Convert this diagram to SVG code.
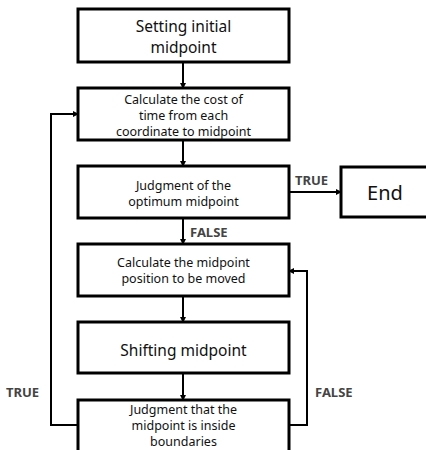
<svg xmlns="http://www.w3.org/2000/svg" width="426" height="450" viewBox="0 0 426 450">
<style>
.box{fill:#fff;stroke:#000;stroke-width:3}
.t{font-family:"Noto Sans","Open Sans",sans-serif;fill:#111;text-anchor:middle;dominant-baseline:central}
.s{font-size:12.5px}
.m{font-size:15.5px}
.l{font-size:20px}
.lab{font-family:"Noto Sans","Open Sans",sans-serif;font-size:13px;font-weight:bold;fill:#444;dominant-baseline:central}
.c{fill:none;stroke:#000;stroke-width:2;marker-end:url(#a)}
</style>
<defs>
<marker id="a" markerWidth="6" markerHeight="6" refX="5" refY="3" orient="auto" markerUnits="userSpaceOnUse">
<path d="M0,0 L6,3 L0,6 z" fill="#000"/>
</marker>
</defs>
<rect width="426" height="450" fill="#fff"/>
<g id="connectors">
<path class="c" d="M183,62 V88"/>
<path class="c" d="M183,140 V166"/>
<path class="c" d="M183,218 V244"/>
<path class="c" d="M183,296 V322"/>
<path class="c" d="M183,373 V400"/>
<path class="c" d="M289,192 H341"/>
<path class="c" d="M78,425 H51 V114 H78"/>
<path class="c" d="M289,425 H307 V271 H289"/>
<text class="lab" x="6" y="392">TRUE</text>
<text class="lab" x="295" y="180">TRUE</text>
<text class="lab" x="190" y="232">FALSE</text>
<text class="lab" x="315" y="392">FALSE</text>
</g>
<g id="n1">
<rect class="box" x="78" y="9" width="211" height="53"/>
<text class="t m" x="183.5" y="25.5">Setting initial</text>
<text class="t m" x="183.5" y="47">midpoint</text>
</g>
<g id="n2">
<rect class="box" x="78" y="88" width="211" height="52"/>
<text class="t s" x="183.5" y="99">Calculate the cost of</text>
<text class="t s" x="183.5" y="115">time from each</text>
<text class="t s" x="183.5" y="131">coordinate to midpoint</text>
</g>
<g id="n3">
<rect class="box" x="78" y="166" width="211" height="52"/>
<text class="t s" x="183.5" y="185">Judgment of the</text>
<text class="t s" x="183.5" y="201">optimum midpoint</text>
</g>
<g id="end">
<rect class="box" x="341" y="167" width="100" height="50"/>
<text class="t l" x="385" y="192">End</text>
</g>
<g id="n4">
<rect class="box" x="78" y="244" width="211" height="52"/>
<text class="t s" x="183.5" y="262">Calculate the midpoint</text>
<text class="t s" x="183.5" y="278">position to be moved</text>
</g>
<g id="n5">
<rect class="box" x="78" y="322" width="211" height="51"/>
<text class="t m" x="183.5" y="350">Shifting midpoint</text>
</g>
<g id="n6">
<rect class="box" x="78" y="400" width="211" height="60"/>
<text class="t s" x="183.5" y="409">Judgment that the</text>
<text class="t s" x="183.5" y="425">midpoint is inside</text>
<text class="t s" x="183.5" y="441">boundaries</text>
</g>
</svg>
